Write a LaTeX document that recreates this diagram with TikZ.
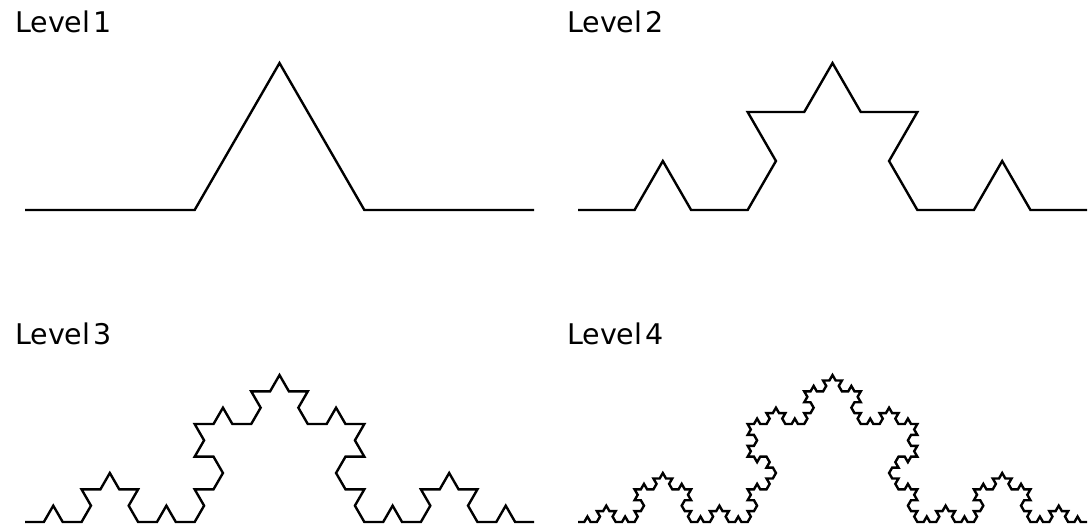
\documentclass[tikz,border=0pt]{standalone}
\usepackage{fontspec}
\setmainfont{DejaVu Sans}
\usetikzlibrary{lindenmayersystems}

% Koch curve: each segment is replaced by four, with a 60 degree bump
\pgfdeclarelindenmayersystem{Koch}{
  \rule{F -> F+F--F+F}
}

% label font with a narrow word space
\newcommand{\levelfont}{\fontsize{28.5}{32}\selectfont\spaceskip 0.12em\relax}

\begin{document}
\begin{tikzpicture}[x=1pt,y=1pt,
  curve/.style={line width=2.4pt, line join=miter, black},
  lbl/.style={anchor=base west, inner sep=0pt, font={\levelfont}}]
  \useasboundingbox (0,0) rectangle (1090,529);

  % level labels
  \node[lbl] (l1) at (15,496) {Level 1};
  \node[lbl] (l2) at (567,496) {Level 2};
  \node[lbl] (l3) at (15,184) {Level 3};
  \node[lbl] (l4) at (567,184) {Level 4};

  % curves, each 509pt from end to end
  \begin{scope}[shift={(25,319)}]
    \draw[curve, lindenmayer system={Koch, axiom=F, order=1, angle=60, step=169.667pt}] lindenmayer system;
  \end{scope}
  \begin{scope}[shift={(578,319)}]
    \draw[curve, lindenmayer system={Koch, axiom=F, order=2, angle=60, step=56.556pt}] lindenmayer system;
  \end{scope}
  \begin{scope}[shift={(25,7)}]
    \draw[curve, lindenmayer system={Koch, axiom=F, order=3, angle=60, step=18.852pt}] lindenmayer system;
  \end{scope}
  \begin{scope}[shift={(578,7)}]
    \draw[curve, lindenmayer system={Koch, axiom=F, order=4, angle=60, step=6.284pt}] lindenmayer system;
  \end{scope}
\end{tikzpicture}
\end{document}
